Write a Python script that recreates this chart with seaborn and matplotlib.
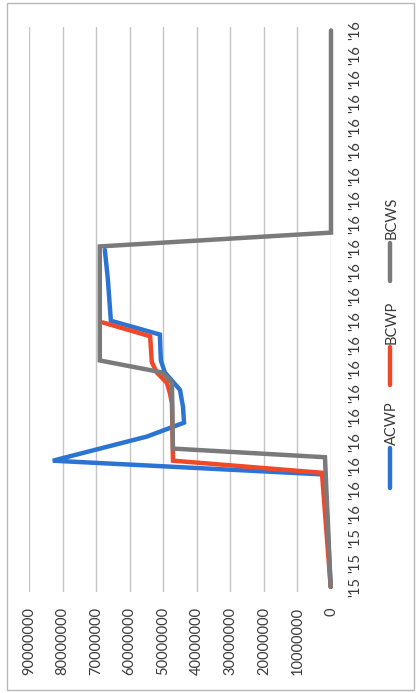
import numpy as np
import matplotlib
matplotlib.use('Agg')
import matplotlib.pyplot as plt
import seaborn as sns
from matplotlib.lines import Line2D
from matplotlib.patches import Rectangle

# time axis: days from project start, labels every 14 days
tick_days = np.arange(0, 323, 14)
tick_labels = ["'15"] * 3 + ["'16"] * 21

# values in millions
acwp_days = [0, 65, 73, 87, 95, 104, 114, 124, 131, 146, 154, 178, 195]
acwp_vals = [0.1, 1.8, 82.9, 54.8, 43.8, 44.1, 45.0, 49.5, 50.7, 51.0, 65.6, 66.5, 67.4]

bcwp_days = [0, 66, 73, 106, 112, 118, 124, 130, 145, 153]
bcwp_vals = [0.1, 2.7, 47.1, 47.4, 48.0, 48.9, 51.9, 53.4, 53.9, 68.0]

bcws_days = [0, 75, 80, 118, 124, 131, 197, 205, 322]
bcws_vals = [0.1, 1.8, 47.1, 47.4, 50.1, 68.9, 68.9, 0.0, 0.0]

series_names = ['ACWP', 'BCWP', 'BCWS']
colors = ['#2c74d4', '#f0492a', '#7a7a7a']

sns.set_style('white')
plt.rcParams['font.family'] = ['Lato', 'DejaVu Sans']
txt_color = '#3a3a3a'
fsize = 10.5

fig = plt.figure(figsize=(4.16, 6.93), dpi=100)
ax = fig.add_axes([29 / 416, 1 - 592 / 693, (331 - 29) / 416, (592 - 27) / 693])

data = [(acwp_days, acwp_vals), (bcwp_days, bcwp_vals), (bcws_days, bcws_vals)]
for (d, v), c in zip(data, colors):
    sns.lineplot(x=np.array(v) * 1e6, y=d, sort=False, estimator=None,
                 color=c, lw=3.2, ax=ax, clip_on=False, solid_joinstyle='miter')

# chart is turned on its side: values run right-to-left, time bottom-to-top
ax.set_xlim(90e6, 0)
ax.set_ylim(-3, 324)
vticks = np.arange(0, 90e6 + 1, 10e6)
ax.set_xticks(vticks)
ax.set_xticklabels([str(int(v)) for v in vticks], rotation=90)
ax.yaxis.tick_right()
ax.set_yticks(tick_days)
ax.set_yticklabels(tick_labels, rotation=90, va='center')
ax.tick_params(length=0, labelsize=fsize, labelcolor=txt_color)
ax.tick_params(axis='x', pad=11)
ax.tick_params(axis='y', pad=12)
ax.set_xlabel('')
ax.set_ylabel('')
ax.grid(axis='x', color='#c4c4c4', lw=1)
ax.grid(axis='y', visible=False)
for s in ax.spines.values():
    s.set_visible(False)

# legend, drawn sideways like the rest
legend_pos = [(448, 488, 423), (347, 385, 322), (243, 281, 218)]
for name, c, (a, b, t) in zip(series_names, colors, legend_pos):
    fig.add_artist(Line2D([390 / 416] * 2, [1 - a / 693, 1 - b / 693],
                          transform=fig.transFigure, color=c, lw=3.2))
    fig.text(392 / 416, 1 - t / 693, name, rotation=90, ha='center', va='center',
             fontsize=fsize, color=txt_color)

fig.add_artist(Rectangle((7 / 416, 3 / 693), 407 / 416, 687 / 693, transform=fig.transFigure,
                         fill=False, ec='#b8b8b8', lw=1))

fig.savefig('out.png', dpi=100)
